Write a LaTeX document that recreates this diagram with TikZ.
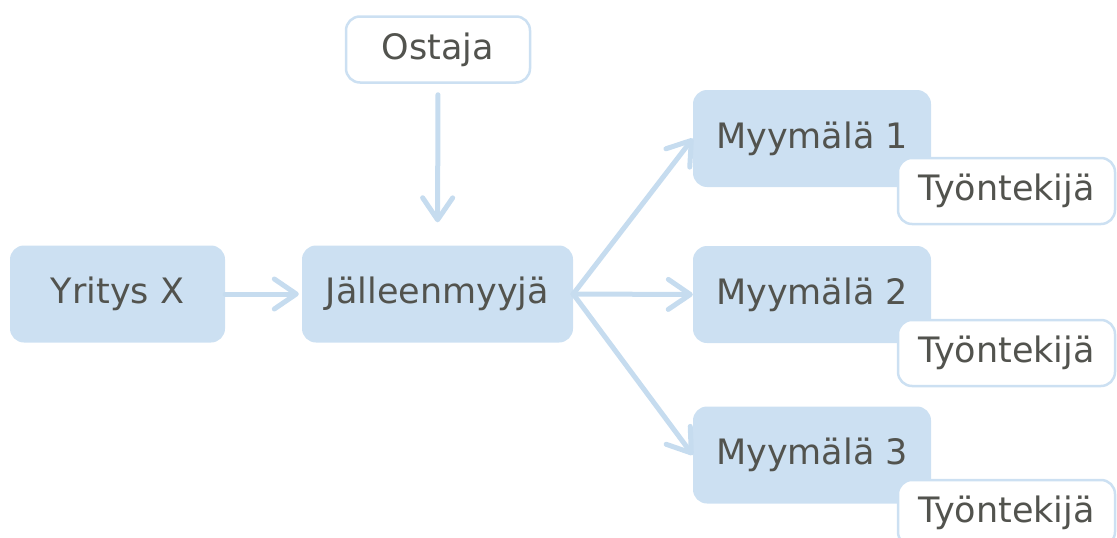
\documentclass[tikz,border=0pt]{standalone}
\usepackage{fontspec}
\setmainfont{DejaVu Sans}
\usepackage{tikz}
\usepackage{xcolor}
\usetikzlibrary{arrows.meta}

\definecolor{boxblue}{HTML}{CCE0F2}
\definecolor{linkblue}{HTML}{C6DCEF}
\definecolor{textgray}{HTML}{52534E}

\begin{document}
\begin{tikzpicture}[
    x=1pt, y=-1pt,
    font=\fontsize{35}{42}\selectfont,
    every node/.style={text=textgray, inner sep=0pt, rounded corners=14pt},
    filled/.style={fill=boxblue, minimum width=#1, minimum height=97pt},
    outlined/.style={draw=boxblue, line width=2.5pt, fill=white, minimum width=#1, minimum height=66pt},
    link/.style={draw=linkblue, line width=5pt, line cap=round,
        -{Straight Barb[length=22pt, width=30pt, round]}}
]

    \useasboundingbox (0,0) rectangle (1117,538);
    \clip (0,0) rectangle (1117,538);

    % Main chain
    \node[filled=215pt] (yritys)  at (117.5, 294) {Yritys X};
    \node[filled=271pt] (jalleen) at (437.5, 294) {Jälleenmyyjä};
    \node[outlined=184pt] (ostaja) at (438, 49.5) {Ostaja};

    % Shops
    \node[filled=238pt] (myy1) at (812, 138.5) {Myymälä 1};
    \node[filled=238pt] (myy2) at (812, 294.5) {Myymälä 2};
    \node[filled=238pt] (myy3) at (812, 455)   {Myymälä 3};

    % Employees (on top of the shops)
    \node[outlined=217pt] (tyo1) at (1006.5, 191) {Työntekijä};
    \node[outlined=217pt] (tyo2) at (1006.5, 353) {Työntekijä};
    \node[outlined=217pt] (tyo3) at (1006.5, 513) {Työntekijä};

    % Connectors
    \draw[link, shorten >=3pt] (yritys.east) -- (jalleen.west);
    \draw[link, shorten <=11pt, shorten >=23pt] (ostaja.south) -- (jalleen.north);
    \draw[link] (jalleen.east) -- (myy1.west);
    \draw[link] (jalleen.east) -- (myy2.west);
    \draw[link] (jalleen.east) -- (myy3.west);

\end{tikzpicture}
\end{document}
